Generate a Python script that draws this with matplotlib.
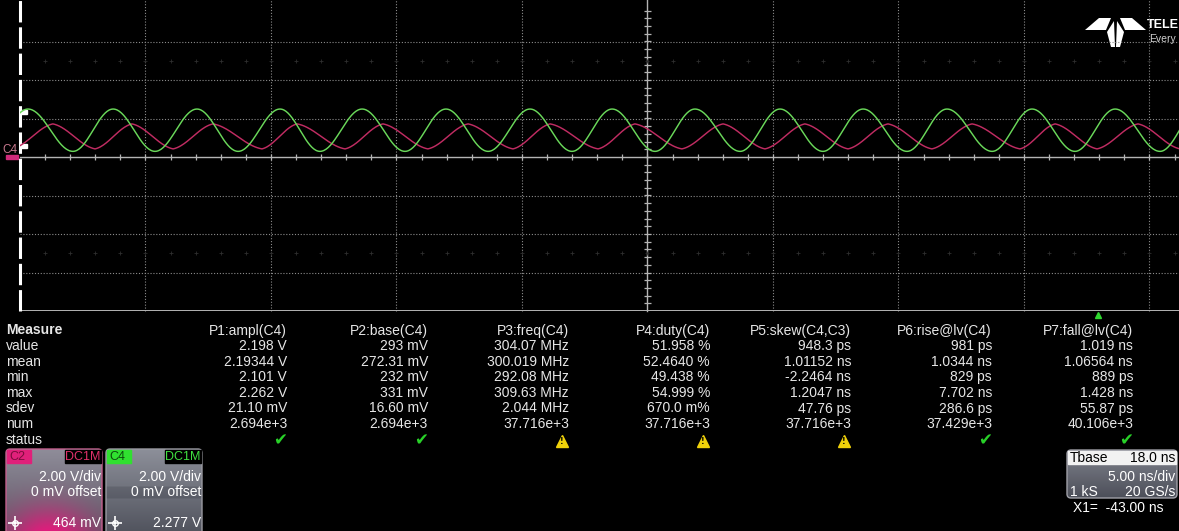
import numpy as np
import matplotlib.pyplot as plt
from matplotlib.patches import FancyBboxPatch, Rectangle, Polygon

W, H = 1179, 531

# scope settings
t_div = 5.0      # ns/div
v_div = 2.0      # V/div

# C4 (green) extrema times, ns from left edge of the grid
c4_peaks = [0.32, 3.71, 7.05, 10.36, 13.63, 16.97, 20.32, 23.59, 26.89, 30.28,
            33.59, 36.93, 40.32, 43.63, 46.97]
c4_troughs = [-1.35, 2.11, 5.38, 8.69, 11.95, 15.34, 18.65, 21.99, 25.30, 28.69,
              31.99, 35.34, 38.73, 42.03, 45.42]
c4_base = 0.293   # V
c4_ampl = 2.198   # V

# C2 (red) extrema times, ns
c2_peaks = [1.31, 4.46, 7.69, 11.04, 14.46, 17.85, 21.12, 24.50, 28.01, 31.27,
            34.58, 37.93, 41.24, 44.54, 47.89]
c2_troughs = [-0.32, 2.99, 6.10, 9.64, 12.95, 16.25, 19.64, 23.03, 26.37, 29.68,
              32.99, 36.33, 39.84, 42.91, 46.22]
c2_high = 1.72
c2_low = 0.42

# measurement table
headers = ['P1:ampl(C4)', 'P2:base(C4)', 'P3:freq(C4)', 'P4:duty(C4)',
           'P5:skew(C4,C3)', 'P6:rise@lv(C4)', 'P7:fall@lv(C4)']
row_names = ['value', 'mean', 'min', 'max', 'sdev', 'num', 'status']
p1 = ['2.198 V', '2.19344 V', '2.101 V', '2.262 V', '21.10 mV', '2.694e+3']
p2 = ['293 mV', '272.31 mV', '232 mV', '331 mV', '16.60 mV', '2.694e+3']
p3 = ['304.07 MHz', '300.019 MHz', '292.08 MHz', '309.63 MHz', '2.044 MHz', '37.716e+3']
p4 = ['51.958 %', '52.4640 %', '49.438 %', '54.999 %', '670.0 m%', '37.716e+3']
p5 = ['948.3 ps', '1.01152 ns', '-2.2464 ns', '1.2047 ns', '47.76 ps', '37.716e+3']
p6 = ['981 ps', '1.0344 ns', '829 ps', '7.702 ns', '286.6 ps', '37.429e+3']
p7 = ['1.019 ns', '1.06564 ns', '889 ps', '1.428 ns', '55.87 ps', '40.106e+3']
status = ['ok', 'ok', 'warn', 'warn', 'warn', 'ok', 'ok']


def trace_curve(peaks, troughs, hi, lo, sharp=0.0, n=40):
    ext = sorted([(t, hi) for t in peaks] + [(t, lo) for t in troughs])
    ts, vs = [], []
    for (t0, v0), (t1, v1) in zip(ext[:-1], ext[1:]):
        s = np.linspace(0, 1, n, endpoint=False)
        shape = (1 - sharp) * (1 - np.cos(np.pi * s)) / 2 + sharp * s
        ts.append(t0 + (t1 - t0) * s)
        vs.append(v0 + (v1 - v0) * shape)
    return np.concatenate(ts), np.concatenate(vs)


fig = plt.figure(figsize=(W / 100, H / 100), dpi=100, facecolor='black')
ov = fig.add_axes([0, 0, 1, 1])
ov.set_facecolor('black')
ov.axis('off')

# grid area: x 20..1275 px, y 3..311 px
gx0, gx1, gy0, gy1 = 20, 1275, 3, 311
ax = fig.add_axes([gx0 / W, 1 - gy1 / H, (gx1 - gx0) / W, (gy1 - gy0) / H])
ax.patch.set_alpha(0)
ax.set_xlim(0, 10 * t_div)
ax.set_ylim(-4 * v_div, 4 * v_div)
ax.axis('off')

dot = (0, (1, 1.6))
for k in range(1, 10):
    if k != 5:
        ax.axvline(k * t_div, color='#8c8c8c', lw=0.8, ls=dot, ymax=1.02, clip_on=False)
for k in [-3, -2, -1, 1, 2, 3]:
    ax.axhline(k * v_div, color='#8c8c8c', lw=0.8, ls=dot)
ax.axhline(0, color='#b4b4b4', lw=1.0)
ax.axvline(25, color='#b4b4b4', lw=1.0, ymax=1.02, clip_on=False)
ax.axhline(-8, color='#b4b4b4', lw=1.4)
tt = np.arange(1, 50)
ax.vlines(tt, -0.17, 0.17, color='#b4b4b4', lw=0.9)
vt = np.arange(-7.6, 7.7, 0.4)
ax.hlines(vt, 25 - 0.13, 25 + 0.13, color='#b4b4b4', lw=0.9)
for yv in [5, -5]:
    ax.plot(tt, np.full_like(tt, yv, dtype=float), ls='none', marker='+',
            ms=3, mew=0.6, color='#2e2e2e')
ax.axvline(0, color='white', lw=2.2, dashes=(7, 1.6), ymax=1.02, clip_on=False)

t4, v4 = trace_curve(c4_peaks, c4_troughs, c4_base + c4_ampl, c4_base)
t2, v2 = trace_curve(c2_peaks, c2_troughs, c2_high, c2_low, sharp=0.35)
ax.plot(t2, v2, color='#c02c62', lw=1.05)
ax.plot(t4, v4, color='#6ad85a', lw=1.05)

# level markers and channel tag at the left edge
ov.add_patch(Rectangle((21, 110), 6, 4, color='white'))
ov.add_patch(Rectangle((21, 144), 6, 4, color='white'))
ov.text(2, 150, 'C4', color='#c8788e', fontsize=8.5, family='Liberation Sans',
        va='center', ha='left')
ov.add_patch(Rectangle((6, 155), 12, 3.5, color='#d02a7a'))

# trigger marker
ov.plot([1098], [315], marker='^', ms=5, color='#2fd82f')

# logo
logo = [[(1085, 30), (1099, 18), (1111, 18), (1106, 30)],
        [(1146, 30), (1132, 18), (1120, 18), (1125, 30)],
        [(1107, 32), (1114, 21), (1115, 47), (1111, 47)],
        [(1124, 32), (1117, 21), (1116, 47), (1120, 47)]]
for pts in logo:
    ov.add_patch(Polygon(pts, closed=True, color='white', lw=0))
ov.text(1147, 25, 'TELE', color='white', fontsize=9, fontweight='bold',
        family='Liberation Sans', va='center', ha='left')
ov.text(1149, 39, 'Every', color='#d0d0d0', fontsize=7.5,
        family='Liberation Sans', va='center', ha='left')

# measurement table
font = dict(family='Liberation Sans', fontsize=10, color='#e6e6e6', va='center')
row_y = [330.5 + 15.6 * k for k in range(8)]
ov.text(6, row_y[0], 'Measure', fontweight='bold', ha='left', **font)
for k, name in enumerate(row_names):
    ov.text(6, row_y[k + 1], name, ha='left', **font)
cols = [p1, p2, p3, p4, p5, p6, p7]
for i, (hdr, vals, st) in enumerate(zip(headers, cols, status)):
    xr = 287 + 141 * i
    ov.text(xr, row_y[0], hdr, ha='right', **font)
    for k, v in enumerate(vals):
        ov.text(xr, row_y[k + 1], v, ha='right', **font)
    xs = xr - 7
    if st == 'ok':
        ov.text(xs, row_y[7] + 1, '\u2714', color='#28d028', fontsize=12,
                family='DejaVu Sans', ha='center', va='center')
    else:
        ov.plot([xs], [row_y[7] + 1], marker='^', ms=8, color='#f0d20a')
        ov.text(xs, row_y[7] + 2, '!', color='black', fontsize=5.5,
                fontweight='bold', family='DejaVu Sans', ha='center', va='center')


def gradient_box(x0, y0, w, h, rgb, edge):
    patch = FancyBboxPatch((x0, y0), w, h, boxstyle='round,pad=0,rounding_size=4',
                           fc='none', ec=edge, lw=1.0, zorder=3)
    ov.add_patch(patch)
    im = ov.imshow(rgb, extent=[x0, x0 + w, y0 + h, y0], aspect='auto',
                   interpolation='bilinear', zorder=2)
    im.set_clip_path(patch)


ny, nx = 60, 60
yy, xx = np.mgrid[0:1:ny * 1j, 0:1:nx * 1j]
gray = np.dstack([0.56 - 0.22 * yy, 0.55 - 0.22 * yy, 0.60 - 0.22 * yy])
glow = np.exp(-(((xx - 0.45) / 0.45) ** 2 + ((yy - 1.05) / 0.38) ** 2))[..., None]
magenta = np.array([0.95, 0.08, 0.50])
c2_rgb = np.clip(gray * (1 - glow) + magenta * glow, 0, 1)
band = np.where((yy > 0.42) & (yy < 0.55), -0.06, 0.0)
c4_rgb = np.clip(np.dstack([0.55 - 0.25 * yy + band, 0.56 - 0.25 * yy + band,
                            0.60 - 0.25 * yy + band]), 0, 1)

gradient_box(6, 449, 96, 90, c2_rgb, '#c4608e')
gradient_box(106, 449, 96, 90, c4_rgb, '#9a9aa2')

# channel descriptors
ch_font = dict(family='Liberation Sans', fontsize=10, color='white', va='center')
for x0, tag, tag_bg, tag_fg, dc_fg, vdiv, offset, level in [
        (6, 'C2', '#e0207a', '#7a0c3c', '#e0306a', '2.00 V/div', '0 mV offset', '464 mV'),
        (106, 'C4', '#30e030', '#0c4a0c', '#40e040', '2.00 V/div', '0 mV offset', '2.277 V')]:
    ov.add_patch(Rectangle((x0 + 1, 450), 24, 13, color=tag_bg, zorder=4))
    ov.text(x0 + 3, 457, tag, color=tag_fg, fontsize=9, family='Liberation Sans',
            va='center', ha='left', zorder=5)
    ov.add_patch(Rectangle((x0 + 59, 450), 36, 13, color='black', zorder=4))
    ov.text(x0 + 94, 457, 'DC1M', color=dc_fg, fontsize=9, family='Liberation Sans',
            va='center', ha='right', zorder=5)
    ov.text(x0 + 95, 477, vdiv, ha='right', zorder=5, **ch_font)
    ov.text(x0 + 95, 492, offset, ha='right', zorder=5, **ch_font)
    ov.text(x0 + 95, 523, level, ha='right', zorder=5, **ch_font)
    ov.plot([x0 + 9], [523], marker='+', ms=10, mew=1.2, color='white', zorder=5)
    ov.plot([x0 + 9], [523], marker='o', ms=4, mfc='none', mew=1.0,
            color='white', zorder=6)

# timebase descriptor
tb_rgb = np.clip(np.dstack([0.50 - 0.20 * yy, 0.51 - 0.20 * yy, 0.55 - 0.20 * yy]), 0, 1)
gradient_box(1067, 450, 110, 48, tb_rgb, '#a0a0a8')
ov.add_patch(Rectangle((1068, 451), 108, 13, color='#f2f2f2', zorder=4))
ov.text(1070, 457.5, 'Tbase', color='black', fontsize=10, family='Liberation Sans',
        va='center', ha='left', zorder=5)
ov.text(1175, 457.5, '18.0 ns', color='black', fontsize=10, family='Liberation Sans',
        va='center', ha='right', zorder=5)
ov.text(1175, 477, '5.00 ns/div', ha='right', zorder=5, **ch_font)
ov.text(1070, 492, '1 kS', ha='left', zorder=5, **ch_font)
ov.text(1175, 492, '20 GS/s', ha='right', zorder=5, **ch_font)
ov.text(1073, 508, 'X1=  -43.00 ns', ha='left', zorder=5, **ch_font)

ov.set_xlim(0, W)
ov.set_ylim(H, 0)

fig.savefig('out.png', dpi=100, facecolor='black')
